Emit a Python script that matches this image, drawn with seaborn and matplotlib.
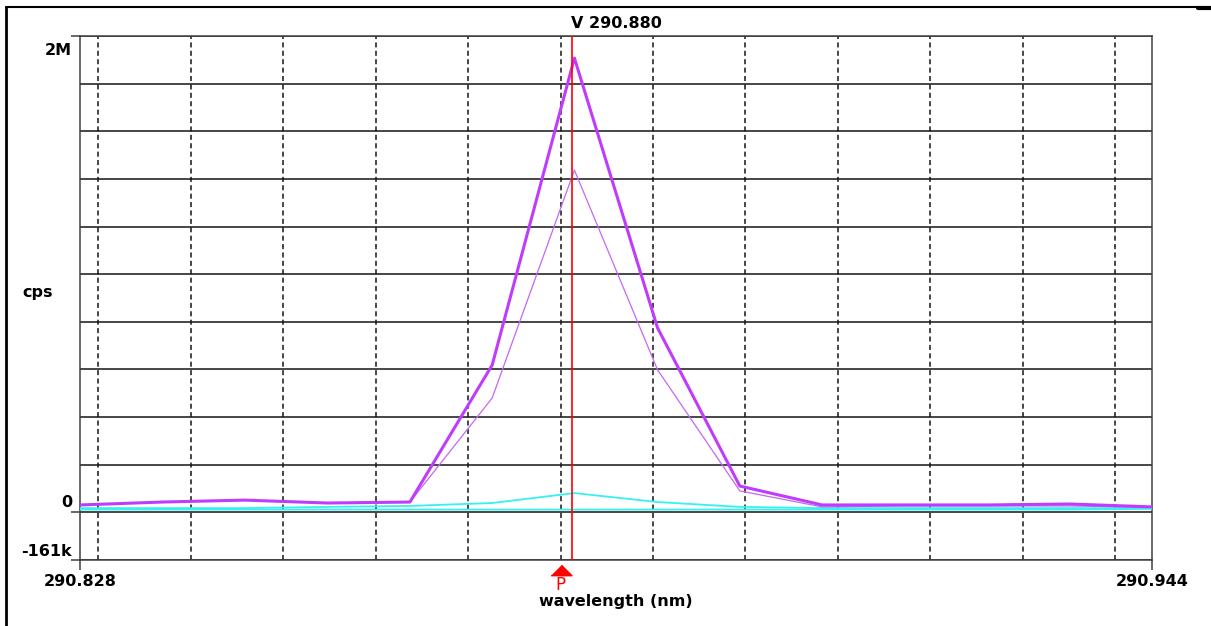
# Spectrum peak view around 290.880 nm
import numpy as np
import pandas as pd
import seaborn as sns
import matplotlib.pyplot as plt
from matplotlib.lines import Line2D
import matplotlib.transforms as mtransforms

# Data
wavelength = [290.828, 290.8369, 290.8458, 290.8548, 290.8637, 290.8726, 290.8815,
              290.8905, 290.8994, 290.9083, 290.9172, 290.9262, 290.9351, 290.944]
cps_main = [66000, 78000, 86000, 74000, 78000, 643000, 1909000,
            796000, 144000, 66000, 66000, 66000, 70000, 58000]
cps_second = [66000, 78000, 86000, 74000, 78000, 507000, 1447000,
              623000, 124000, 58000, 62000, 62000, 62000, 56000]
cps_bg_peak = [53000, 53000, 53000, 58000, 62000, 74000, 115000,
               78000, 58000, 53000, 53000, 53000, 53000, 53000]
cps_bg_flat = [47000, 47000, 47000, 47000, 47000, 47000, 47000,
               47000, 47000, 47000, 47000, 47000, 47000, 50000]

x_min, x_max = 290.828, 290.944
y_min, y_max = -161000, 2000000
v_grid = [290.83, 290.84, 290.85, 290.86, 290.87, 290.88, 290.89,
          290.90, 290.91, 290.92, 290.93, 290.94]
cursor_pos = 290.8812
peak_pos = 290.880

if __name__ == "__main__":
    sns.set_style("white")
    plt.rcParams["font.family"] = ["DejaVu Sans"]
    plt.rcParams["text.color"] = "black"
    plt.rcParams["axes.labelcolor"] = "black"

    fig = plt.figure(figsize=(12.11, 6.26), dpi=100)
    ax = fig.add_axes([80 / 1211, 66 / 626, 1072 / 1211, 524 / 626])

    # horizontal grid: 11 equal divisions of the range
    h_grid = np.linspace(y_min, y_max, 12)
    for h in h_grid:
        ax.axhline(h, color="#151515", lw=1.1, zorder=1)
    for v in v_grid:
        ax.axvline(v, color="#151515", lw=1.1, dashes=(3.3, 2.2), zorder=1)

    df = pd.DataFrame({"wavelength": wavelength, "main": cps_main, "second": cps_second,
                       "bg_peak": cps_bg_peak, "bg_flat": cps_bg_flat})
    sns.lineplot(data=df, x="wavelength", y="bg_flat", ax=ax, color="#38F0F0", lw=1.3, zorder=3)
    sns.lineplot(data=df, x="wavelength", y="bg_peak", ax=ax, color="#38F0F0", lw=1.3, zorder=3)
    sns.lineplot(data=df, x="wavelength", y="second", ax=ax, color="#C468F4", lw=0.9, zorder=4)
    sns.lineplot(data=df, x="wavelength", y="main", ax=ax, color="#C03CFC", lw=2.2, zorder=5)

    ax.axvline(cursor_pos, color="#FF0000", lw=1.2, zorder=6)

    ax.set_xlim(x_min, x_max)
    ax.set_ylim(y_min, y_max)

    for s in ax.spines.values():
        s.set_color("#404040")
        s.set_linewidth(1.1)

    ax.set_xticks([x_min, x_max])
    ax.set_xticklabels(["290.828", "290.944"], fontsize=11.5, fontweight="bold")
    ax.set_yticks([y_min, h_grid[1], y_max])
    ax.set_yticklabels(["", "", ""])
    ax.tick_params(axis="x", bottom=True, direction="out", length=7, width=1.1,
                   color="#404040", labelcolor="black", pad=3)
    ax.tick_params(axis="y", left=True, direction="out", length=6.5, width=1.1,
                   color="#404040", pad=0)

    lbl = dict(fontsize=11.5, fontweight="bold", ha="right", va="center",
               transform=ax.transAxes)
    ax.text(-0.0075, 0.973, "2M", **lbl)
    ax.text(-0.0075, 0.1088, "0", **lbl)
    ax.text(-0.0075, 0.0153, "-161k", **lbl)

    ax.set_xlabel("wavelength (nm)", fontsize=11.5, fontweight="bold", labelpad=4)
    ax.set_ylabel("")
    ax.set_title("V 290.880", fontsize=11.5, fontweight="bold", pad=6)
    fig.text(38 / 1211, 1 - 292 / 626, "cps", fontsize=11.5, fontweight="bold",
             ha="center", va="center")

    # peak marker below the axis
    blend = mtransforms.blended_transform_factory(ax.transData, ax.transAxes)
    ax.plot([peak_pos], [-0.019], marker=[(-1, -0.5), (1, -0.5), (0, 0.5)],
            markersize=15, color="#FF0000", transform=blend, clip_on=False, zorder=7)
    ax.text(peak_pos, -0.048, "P", color="#FF0000", fontsize=12, ha="center",
            va="center", transform=blend, zorder=8)

    # window frame
    fig.add_artist(Line2D([6 / 1211, 6 / 1211], [0, 1 - 7 / 626], color="black", lw=2))
    fig.add_artist(Line2D([6 / 1211, 1198 / 1211], [1 - 7 / 626, 1 - 7 / 626],
                          color="black", lw=1.5))
    fig.add_artist(Line2D([1198 / 1211, 1], [1 - 7.5 / 626, 1 - 7.5 / 626],
                          color="black", lw=3))

    fig.savefig("out.png", dpi=100)
